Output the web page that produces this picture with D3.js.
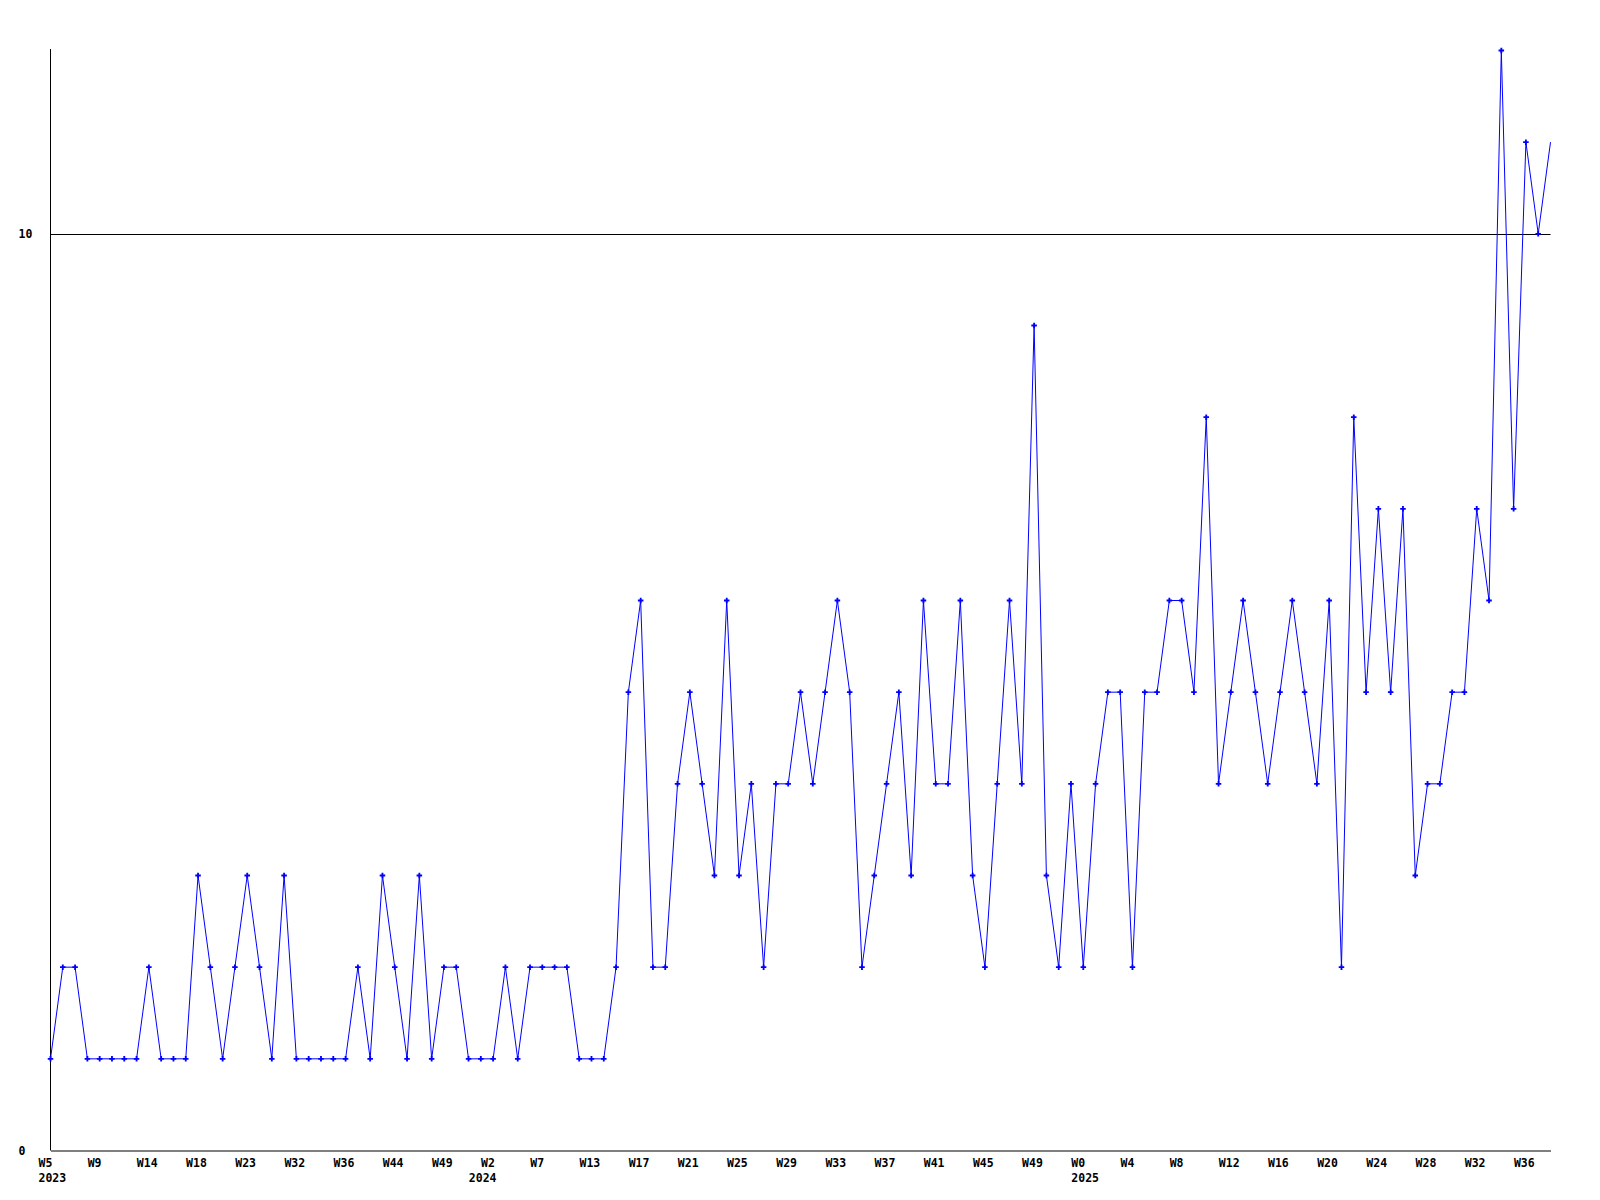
<!DOCTYPE html>
<html>
<head>
<meta charset="utf-8">
<script src="https://cdn.jsdelivr.net/npm/d3@7"></script>
<style>
  html, body { margin: 0; padding: 0; background: #fff; }
  svg text { font-family: "DejaVu Sans Mono", monospace; font-weight: bold; font-size: 11.5px; fill: #000; }
</style>
</head>
<body>
<svg id="chart" width="1600" height="1200"></svg>
<script>
// weekly counts, one per sample
const values = [
  1,2,2,1,1,1,1,1,2,1,1,1,3,2,1,2,3,2,1,3,1,1,1,1,1,2,1,3,2,1,3,1,2,2,1,1,1,2,1,2,2,2,2,1,1,1,2,
  5,6,2,2,4,5,4,3,6,3,4,2,4,4,5,4,5,6,5,2,3,4,5,3,6,4,4,6,3,2,4,6,4,9,3,2,
  4,2,4,5,5,2,5,5,6,6,5,8,4,5,6,5,4,5,6,5,4,6,2,8,5,7,5,7,3,4,4,5,5,7,6,12,7,11,10,11
];

// a week label on every 4th sample
const weekLabels = [
  "W5","W9","W14","W18","W23","W32","W36","W44","W49",
  "W2","W7","W13","W17","W21","W25","W29","W33","W37","W41","W45","W49",
  "W0","W4","W8","W12","W16","W20","W24","W28","W32","W36"
];
const labelStep = 4;

// first sample of each year
const years = ["2023", "2024", "2025"];
const yearStart = [0, 35, 84];

const yTicks = [0, 10];
const yMax = 12;

const svg = d3.select('#chart');

const x = d3.scaleLinear()
  .domain([0, values.length - 1])
  .range([50.5, 1550.5]);

const y = d3.scaleLinear()
  .domain([0, yMax])
  .range([1150.5, 50.5]);

// gridline at 10
svg.append('g').attr('class', 'grid')
  .selectAll('line')
  .data(yTicks.filter(d => d > 0)).enter()
  .append('line')
  .attr('x1', x.range()[0])
  .attr('x2', x.range()[1])
  .attr('y1', d => Math.round(y(d)) + 0.5)
  .attr('y2', d => Math.round(y(d)) + 0.5)
  .attr('stroke', "#000")
  .attr('stroke-width', 1);

// axes
const yAxis = svg.append('g')
  .attr('transform', `translate(${x.range()[0]},0)`)
  .call(d3.axisLeft(y).tickValues(yTicks).tickSize(0).tickFormat(d3.format('d')));

yAxis.attr('font-family', null).attr('font-size', null);
yAxis.select('.domain').attr('d', `M0,${y(0)}V${y(yMax) - 1.5}`).attr('stroke', "#000");
yAxis.selectAll('.tick text')
  .attr('text-anchor', "start")
  .attr('x', 18.5 - x.range()[0])
  .attr('dy', "0.35em");

const xAxis = svg.append('g')
  .attr('transform', `translate(0,${y(0)})`)
  .call(d3.axisBottom(x).tickValues(weekLabels.map((_, i) => i * labelStep)).tickSize(0)
    .tickFormat((d, i) => weekLabels[i]));

xAxis.attr('font-family', null).attr('font-size', null);
xAxis.select('.domain').attr('stroke', "#000");
xAxis.selectAll('.tick text')
  .attr('text-anchor', "start")
  .attr('x', -12.5)
  .attr('y', 16.5)
  .attr('dy', null);

svg.append('g').attr('class', 'years')
  .selectAll('text')
  .data(years).enter()
  .append('text')
  .attr('x', (d, i) => x(yearStart[i]) - 12)
  .attr('y', y(0) + 31)
  .text(d => d);

// series
const line = d3.line()
  .x((d, i) => x(i))
  .y(d => y(d));

svg.append('path')
  .datum(values)
  .attr('d', line)
  .attr('fill', "none")
  .attr('stroke', "#0000ff")
  .attr('stroke-width', 1);

const marker = d3.symbol().type(d3.symbolCross).size(17);

svg.append('g').attr('class', 'points')
  .selectAll('path')
  .data(values.slice(0, -1)).enter()
  .append('path')
  .attr('d', marker)
  .attr('transform', (d, i) => `translate(${x(i)},${y(d)})`)
  .attr('fill', "#0000ff");
</script>
</body>
</html>
